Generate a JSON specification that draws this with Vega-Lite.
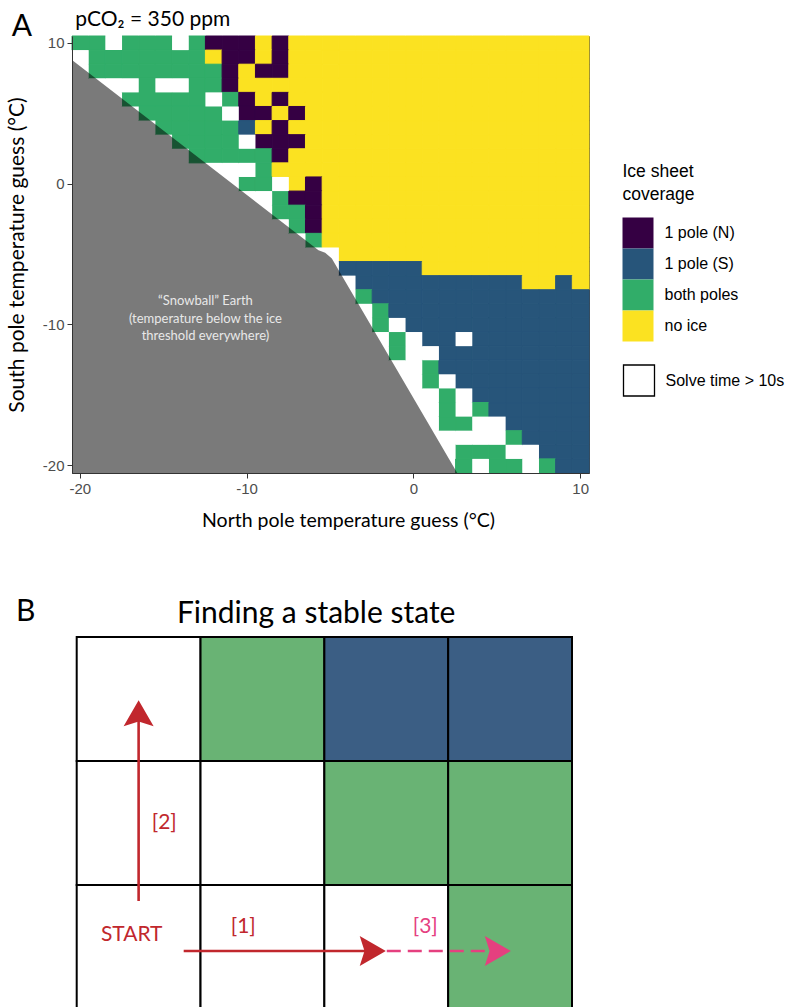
{
  "$schema": "https://vega.github.io/schema/vega-lite/v6.json",
  "padding": {"left": 5, "top": 8, "right": 0, "bottom": 0},
  "background": "white",
  "config": {"font": "Lato", "view": {"stroke": null}, "axis": {"grid": false}},
  "spacing": 66,
  "resolve": {"scale": {"x": "independent", "y": "independent", "fill": "independent", "stroke": "independent", "color": "independent", "shape": "independent"}},
  "datasets": {
    "cells": [
      {"n":-20,"s":10,"c":"both poles"},{"n":-19,"s":10,"c":"both poles"},{"n":-18,"s":10,"c":"Solve time > 10s"},{"n":-17,"s":10,"c":"both poles"},{"n":-16,"s":10,"c":"both poles"},{"n":-15,"s":10,"c":"both poles"},{"n":-14,"s":10,"c":"Solve time > 10s"},{"n":-13,"s":10,"c":"both poles"},{"n":-12,"s":10,"c":"1 pole (N)"},{"n":-11,"s":10,"c":"1 pole (N)"},{"n":-10,"s":10,"c":"1 pole (N)"},{"n":-9,"s":10,"c":"no ice"},{"n":-8,"s":10,"c":"1 pole (N)"},
      {"n":-7,"s":10,"c":"no ice"},{"n":-6,"s":10,"c":"no ice"},{"n":-5,"s":10,"c":"no ice"},{"n":-4,"s":10,"c":"no ice"},{"n":-3,"s":10,"c":"no ice"},{"n":-2,"s":10,"c":"no ice"},{"n":-1,"s":10,"c":"no ice"},{"n":0,"s":10,"c":"no ice"},{"n":1,"s":10,"c":"no ice"},{"n":2,"s":10,"c":"no ice"},{"n":3,"s":10,"c":"no ice"},{"n":4,"s":10,"c":"no ice"},{"n":5,"s":10,"c":"no ice"},{"n":6,"s":10,"c":"no ice"},{"n":7,"s":10,"c":"no ice"},{"n":8,"s":10,"c":"no ice"},{"n":9,"s":10,"c":"no ice"},{"n":10,"s":10,"c":"no ice"},

      {"n":-20,"s":9,"c":"Solve time > 10s"},{"n":-19,"s":9,"c":"both poles"},{"n":-18,"s":9,"c":"both poles"},{"n":-17,"s":9,"c":"both poles"},{"n":-16,"s":9,"c":"both poles"},{"n":-15,"s":9,"c":"both poles"},{"n":-14,"s":9,"c":"both poles"},{"n":-13,"s":9,"c":"both poles"},{"n":-12,"s":9,"c":"no ice"},{"n":-11,"s":9,"c":"1 pole (N)"},{"n":-10,"s":9,"c":"1 pole (N)"},{"n":-9,"s":9,"c":"no ice"},{"n":-8,"s":9,"c":"1 pole (N)"},
      {"n":-7,"s":9,"c":"no ice"},{"n":-6,"s":9,"c":"no ice"},{"n":-5,"s":9,"c":"no ice"},{"n":-4,"s":9,"c":"no ice"},{"n":-3,"s":9,"c":"no ice"},{"n":-2,"s":9,"c":"no ice"},{"n":-1,"s":9,"c":"no ice"},{"n":0,"s":9,"c":"no ice"},{"n":1,"s":9,"c":"no ice"},{"n":2,"s":9,"c":"no ice"},{"n":3,"s":9,"c":"no ice"},{"n":4,"s":9,"c":"no ice"},{"n":5,"s":9,"c":"no ice"},{"n":6,"s":9,"c":"no ice"},{"n":7,"s":9,"c":"no ice"},{"n":8,"s":9,"c":"no ice"},{"n":9,"s":9,"c":"no ice"},{"n":10,"s":9,"c":"no ice"},

      {"n":-20,"s":8,"c":"Solve time > 10s"},{"n":-19,"s":8,"c":"both poles"},{"n":-18,"s":8,"c":"both poles"},{"n":-17,"s":8,"c":"both poles"},{"n":-16,"s":8,"c":"both poles"},{"n":-15,"s":8,"c":"both poles"},{"n":-14,"s":8,"c":"both poles"},{"n":-13,"s":8,"c":"both poles"},{"n":-12,"s":8,"c":"both poles"},{"n":-11,"s":8,"c":"1 pole (N)"},{"n":-10,"s":8,"c":"no ice"},{"n":-9,"s":8,"c":"1 pole (N)"},{"n":-8,"s":8,"c":"1 pole (N)"},
      {"n":-7,"s":8,"c":"no ice"},{"n":-6,"s":8,"c":"no ice"},{"n":-5,"s":8,"c":"no ice"},{"n":-4,"s":8,"c":"no ice"},{"n":-3,"s":8,"c":"no ice"},{"n":-2,"s":8,"c":"no ice"},{"n":-1,"s":8,"c":"no ice"},{"n":0,"s":8,"c":"no ice"},{"n":1,"s":8,"c":"no ice"},{"n":2,"s":8,"c":"no ice"},{"n":3,"s":8,"c":"no ice"},{"n":4,"s":8,"c":"no ice"},{"n":5,"s":8,"c":"no ice"},{"n":6,"s":8,"c":"no ice"},{"n":7,"s":8,"c":"no ice"},{"n":8,"s":8,"c":"no ice"},{"n":9,"s":8,"c":"no ice"},{"n":10,"s":8,"c":"no ice"},

      {"n":-19,"s":7,"c":"Solve time > 10s"},{"n":-18,"s":7,"c":"Solve time > 10s"},{"n":-17,"s":7,"c":"Solve time > 10s"},{"n":-16,"s":7,"c":"both poles"},{"n":-15,"s":7,"c":"Solve time > 10s"},{"n":-14,"s":7,"c":"Solve time > 10s"},{"n":-13,"s":7,"c":"both poles"},{"n":-12,"s":7,"c":"both poles"},{"n":-11,"s":7,"c":"1 pole (N)"},
      {"n":-10,"s":7,"c":"no ice"},{"n":-9,"s":7,"c":"no ice"},{"n":-8,"s":7,"c":"no ice"},{"n":-7,"s":7,"c":"no ice"},{"n":-6,"s":7,"c":"no ice"},{"n":-5,"s":7,"c":"no ice"},{"n":-4,"s":7,"c":"no ice"},{"n":-3,"s":7,"c":"no ice"},{"n":-2,"s":7,"c":"no ice"},{"n":-1,"s":7,"c":"no ice"},{"n":0,"s":7,"c":"no ice"},{"n":1,"s":7,"c":"no ice"},{"n":2,"s":7,"c":"no ice"},{"n":3,"s":7,"c":"no ice"},{"n":4,"s":7,"c":"no ice"},{"n":5,"s":7,"c":"no ice"},{"n":6,"s":7,"c":"no ice"},{"n":7,"s":7,"c":"no ice"},{"n":8,"s":7,"c":"no ice"},{"n":9,"s":7,"c":"no ice"},{"n":10,"s":7,"c":"no ice"},

      {"n":-18,"s":6,"c":"Solve time > 10s"},{"n":-17,"s":6,"c":"both poles"},{"n":-16,"s":6,"c":"both poles"},{"n":-15,"s":6,"c":"both poles"},{"n":-14,"s":6,"c":"both poles"},{"n":-13,"s":6,"c":"both poles"},{"n":-12,"s":6,"c":"Solve time > 10s"},{"n":-11,"s":6,"c":"both poles"},{"n":-10,"s":6,"c":"1 pole (N)"},{"n":-9,"s":6,"c":"no ice"},{"n":-8,"s":6,"c":"1 pole (N)"},
      {"n":-7,"s":6,"c":"no ice"},{"n":-6,"s":6,"c":"no ice"},{"n":-5,"s":6,"c":"no ice"},{"n":-4,"s":6,"c":"no ice"},{"n":-3,"s":6,"c":"no ice"},{"n":-2,"s":6,"c":"no ice"},{"n":-1,"s":6,"c":"no ice"},{"n":0,"s":6,"c":"no ice"},{"n":1,"s":6,"c":"no ice"},{"n":2,"s":6,"c":"no ice"},{"n":3,"s":6,"c":"no ice"},{"n":4,"s":6,"c":"no ice"},{"n":5,"s":6,"c":"no ice"},{"n":6,"s":6,"c":"no ice"},{"n":7,"s":6,"c":"no ice"},{"n":8,"s":6,"c":"no ice"},{"n":9,"s":6,"c":"no ice"},{"n":10,"s":6,"c":"no ice"},

      {"n":-17,"s":5,"c":"Solve time > 10s"},{"n":-16,"s":5,"c":"both poles"},{"n":-15,"s":5,"c":"both poles"},{"n":-14,"s":5,"c":"both poles"},{"n":-13,"s":5,"c":"both poles"},{"n":-12,"s":5,"c":"both poles"},{"n":-11,"s":5,"c":"Solve time > 10s"},{"n":-10,"s":5,"c":"1 pole (N)"},{"n":-9,"s":5,"c":"1 pole (N)"},{"n":-8,"s":5,"c":"no ice"},{"n":-7,"s":5,"c":"1 pole (N)"},
      {"n":-6,"s":5,"c":"no ice"},{"n":-5,"s":5,"c":"no ice"},{"n":-4,"s":5,"c":"no ice"},{"n":-3,"s":5,"c":"no ice"},{"n":-2,"s":5,"c":"no ice"},{"n":-1,"s":5,"c":"no ice"},{"n":0,"s":5,"c":"no ice"},{"n":1,"s":5,"c":"no ice"},{"n":2,"s":5,"c":"no ice"},{"n":3,"s":5,"c":"no ice"},{"n":4,"s":5,"c":"no ice"},{"n":5,"s":5,"c":"no ice"},{"n":6,"s":5,"c":"no ice"},{"n":7,"s":5,"c":"no ice"},{"n":8,"s":5,"c":"no ice"},{"n":9,"s":5,"c":"no ice"},{"n":10,"s":5,"c":"no ice"},

      {"n":-16,"s":4,"c":"Solve time > 10s"},{"n":-15,"s":4,"c":"both poles"},{"n":-14,"s":4,"c":"both poles"},{"n":-13,"s":4,"c":"both poles"},{"n":-12,"s":4,"c":"both poles"},{"n":-11,"s":4,"c":"both poles"},{"n":-10,"s":4,"c":"1 pole (S)"},{"n":-9,"s":4,"c":"no ice"},{"n":-8,"s":4,"c":"1 pole (N)"},
      {"n":-7,"s":4,"c":"no ice"},{"n":-6,"s":4,"c":"no ice"},{"n":-5,"s":4,"c":"no ice"},{"n":-4,"s":4,"c":"no ice"},{"n":-3,"s":4,"c":"no ice"},{"n":-2,"s":4,"c":"no ice"},{"n":-1,"s":4,"c":"no ice"},{"n":0,"s":4,"c":"no ice"},{"n":1,"s":4,"c":"no ice"},{"n":2,"s":4,"c":"no ice"},{"n":3,"s":4,"c":"no ice"},{"n":4,"s":4,"c":"no ice"},{"n":5,"s":4,"c":"no ice"},{"n":6,"s":4,"c":"no ice"},{"n":7,"s":4,"c":"no ice"},{"n":8,"s":4,"c":"no ice"},{"n":9,"s":4,"c":"no ice"},{"n":10,"s":4,"c":"no ice"},

      {"n":-15,"s":3,"c":"Solve time > 10s"},{"n":-14,"s":3,"c":"both poles"},{"n":-13,"s":3,"c":"both poles"},{"n":-12,"s":3,"c":"both poles"},{"n":-11,"s":3,"c":"both poles"},{"n":-10,"s":3,"c":"Solve time > 10s"},{"n":-9,"s":3,"c":"1 pole (N)"},{"n":-8,"s":3,"c":"1 pole (N)"},{"n":-7,"s":3,"c":"1 pole (N)"},
      {"n":-6,"s":3,"c":"no ice"},{"n":-5,"s":3,"c":"no ice"},{"n":-4,"s":3,"c":"no ice"},{"n":-3,"s":3,"c":"no ice"},{"n":-2,"s":3,"c":"no ice"},{"n":-1,"s":3,"c":"no ice"},{"n":0,"s":3,"c":"no ice"},{"n":1,"s":3,"c":"no ice"},{"n":2,"s":3,"c":"no ice"},{"n":3,"s":3,"c":"no ice"},{"n":4,"s":3,"c":"no ice"},{"n":5,"s":3,"c":"no ice"},{"n":6,"s":3,"c":"no ice"},{"n":7,"s":3,"c":"no ice"},{"n":8,"s":3,"c":"no ice"},{"n":9,"s":3,"c":"no ice"},{"n":10,"s":3,"c":"no ice"},

      {"n":-14,"s":2,"c":"Solve time > 10s"},{"n":-13,"s":2,"c":"both poles"},{"n":-12,"s":2,"c":"both poles"},{"n":-11,"s":2,"c":"both poles"},{"n":-10,"s":2,"c":"both poles"},{"n":-9,"s":2,"c":"both poles"},{"n":-8,"s":2,"c":"1 pole (N)"},
      {"n":-7,"s":2,"c":"no ice"},{"n":-6,"s":2,"c":"no ice"},{"n":-5,"s":2,"c":"no ice"},{"n":-4,"s":2,"c":"no ice"},{"n":-3,"s":2,"c":"no ice"},{"n":-2,"s":2,"c":"no ice"},{"n":-1,"s":2,"c":"no ice"},{"n":0,"s":2,"c":"no ice"},{"n":1,"s":2,"c":"no ice"},{"n":2,"s":2,"c":"no ice"},{"n":3,"s":2,"c":"no ice"},{"n":4,"s":2,"c":"no ice"},{"n":5,"s":2,"c":"no ice"},{"n":6,"s":2,"c":"no ice"},{"n":7,"s":2,"c":"no ice"},{"n":8,"s":2,"c":"no ice"},{"n":9,"s":2,"c":"no ice"},{"n":10,"s":2,"c":"no ice"},

      {"n":-12,"s":1,"c":"Solve time > 10s"},{"n":-11,"s":1,"c":"Solve time > 10s"},{"n":-10,"s":1,"c":"Solve time > 10s"},{"n":-9,"s":1,"c":"both poles"},
      {"n":-8,"s":1,"c":"no ice"},{"n":-7,"s":1,"c":"no ice"},{"n":-6,"s":1,"c":"no ice"},{"n":-5,"s":1,"c":"no ice"},{"n":-4,"s":1,"c":"no ice"},{"n":-3,"s":1,"c":"no ice"},{"n":-2,"s":1,"c":"no ice"},{"n":-1,"s":1,"c":"no ice"},{"n":0,"s":1,"c":"no ice"},{"n":1,"s":1,"c":"no ice"},{"n":2,"s":1,"c":"no ice"},{"n":3,"s":1,"c":"no ice"},{"n":4,"s":1,"c":"no ice"},{"n":5,"s":1,"c":"no ice"},{"n":6,"s":1,"c":"no ice"},{"n":7,"s":1,"c":"no ice"},{"n":8,"s":1,"c":"no ice"},{"n":9,"s":1,"c":"no ice"},{"n":10,"s":1,"c":"no ice"},

      {"n":-11,"s":0,"c":"Solve time > 10s"},{"n":-10,"s":0,"c":"both poles"},{"n":-9,"s":0,"c":"both poles"},{"n":-8,"s":0,"c":"Solve time > 10s"},{"n":-7,"s":0,"c":"no ice"},{"n":-6,"s":0,"c":"1 pole (N)"},
      {"n":-5,"s":0,"c":"no ice"},{"n":-4,"s":0,"c":"no ice"},{"n":-3,"s":0,"c":"no ice"},{"n":-2,"s":0,"c":"no ice"},{"n":-1,"s":0,"c":"no ice"},{"n":0,"s":0,"c":"no ice"},{"n":1,"s":0,"c":"no ice"},{"n":2,"s":0,"c":"no ice"},{"n":3,"s":0,"c":"no ice"},{"n":4,"s":0,"c":"no ice"},{"n":5,"s":0,"c":"no ice"},{"n":6,"s":0,"c":"no ice"},{"n":7,"s":0,"c":"no ice"},{"n":8,"s":0,"c":"no ice"},{"n":9,"s":0,"c":"no ice"},{"n":10,"s":0,"c":"no ice"},

      {"n":-10,"s":-1,"c":"Solve time > 10s"},{"n":-9,"s":-1,"c":"Solve time > 10s"},{"n":-8,"s":-1,"c":"both poles"},{"n":-7,"s":-1,"c":"1 pole (N)"},{"n":-6,"s":-1,"c":"1 pole (N)"},
      {"n":-5,"s":-1,"c":"no ice"},{"n":-4,"s":-1,"c":"no ice"},{"n":-3,"s":-1,"c":"no ice"},{"n":-2,"s":-1,"c":"no ice"},{"n":-1,"s":-1,"c":"no ice"},{"n":0,"s":-1,"c":"no ice"},{"n":1,"s":-1,"c":"no ice"},{"n":2,"s":-1,"c":"no ice"},{"n":3,"s":-1,"c":"no ice"},{"n":4,"s":-1,"c":"no ice"},{"n":5,"s":-1,"c":"no ice"},{"n":6,"s":-1,"c":"no ice"},{"n":7,"s":-1,"c":"no ice"},{"n":8,"s":-1,"c":"no ice"},{"n":9,"s":-1,"c":"no ice"},{"n":10,"s":-1,"c":"no ice"},

      {"n":-9,"s":-2,"c":"Solve time > 10s"},{"n":-8,"s":-2,"c":"both poles"},{"n":-7,"s":-2,"c":"both poles"},{"n":-6,"s":-2,"c":"1 pole (N)"},
      {"n":-5,"s":-2,"c":"no ice"},{"n":-4,"s":-2,"c":"no ice"},{"n":-3,"s":-2,"c":"no ice"},{"n":-2,"s":-2,"c":"no ice"},{"n":-1,"s":-2,"c":"no ice"},{"n":0,"s":-2,"c":"no ice"},{"n":1,"s":-2,"c":"no ice"},{"n":2,"s":-2,"c":"no ice"},{"n":3,"s":-2,"c":"no ice"},{"n":4,"s":-2,"c":"no ice"},{"n":5,"s":-2,"c":"no ice"},{"n":6,"s":-2,"c":"no ice"},{"n":7,"s":-2,"c":"no ice"},{"n":8,"s":-2,"c":"no ice"},{"n":9,"s":-2,"c":"no ice"},{"n":10,"s":-2,"c":"no ice"},

      {"n":-8,"s":-3,"c":"Solve time > 10s"},{"n":-7,"s":-3,"c":"both poles"},{"n":-6,"s":-3,"c":"1 pole (N)"},
      {"n":-5,"s":-3,"c":"no ice"},{"n":-4,"s":-3,"c":"no ice"},{"n":-3,"s":-3,"c":"no ice"},{"n":-2,"s":-3,"c":"no ice"},{"n":-1,"s":-3,"c":"no ice"},{"n":0,"s":-3,"c":"no ice"},{"n":1,"s":-3,"c":"no ice"},{"n":2,"s":-3,"c":"no ice"},{"n":3,"s":-3,"c":"no ice"},{"n":4,"s":-3,"c":"no ice"},{"n":5,"s":-3,"c":"no ice"},{"n":6,"s":-3,"c":"no ice"},{"n":7,"s":-3,"c":"no ice"},{"n":8,"s":-3,"c":"no ice"},{"n":9,"s":-3,"c":"no ice"},{"n":10,"s":-3,"c":"no ice"},

      {"n":-7,"s":-4,"c":"Solve time > 10s"},{"n":-6,"s":-4,"c":"both poles"},
      {"n":-5,"s":-4,"c":"no ice"},{"n":-4,"s":-4,"c":"no ice"},{"n":-3,"s":-4,"c":"no ice"},{"n":-2,"s":-4,"c":"no ice"},{"n":-1,"s":-4,"c":"no ice"},{"n":0,"s":-4,"c":"no ice"},{"n":1,"s":-4,"c":"no ice"},{"n":2,"s":-4,"c":"no ice"},{"n":3,"s":-4,"c":"no ice"},{"n":4,"s":-4,"c":"no ice"},{"n":5,"s":-4,"c":"no ice"},{"n":6,"s":-4,"c":"no ice"},{"n":7,"s":-4,"c":"no ice"},{"n":8,"s":-4,"c":"no ice"},{"n":9,"s":-4,"c":"no ice"},{"n":10,"s":-4,"c":"no ice"},

      {"n":-6,"s":-5,"c":"Solve time > 10s"},{"n":-5,"s":-5,"c":"Solve time > 10s"},
      {"n":-4,"s":-5,"c":"no ice"},{"n":-3,"s":-5,"c":"no ice"},{"n":-2,"s":-5,"c":"no ice"},{"n":-1,"s":-5,"c":"no ice"},{"n":0,"s":-5,"c":"no ice"},{"n":1,"s":-5,"c":"no ice"},{"n":2,"s":-5,"c":"no ice"},{"n":3,"s":-5,"c":"no ice"},{"n":4,"s":-5,"c":"no ice"},{"n":5,"s":-5,"c":"no ice"},{"n":6,"s":-5,"c":"no ice"},{"n":7,"s":-5,"c":"no ice"},{"n":8,"s":-5,"c":"no ice"},{"n":9,"s":-5,"c":"no ice"},{"n":10,"s":-5,"c":"no ice"},

      {"n":-5,"s":-6,"c":"Solve time > 10s"},{"n":-4,"s":-6,"c":"1 pole (S)"},{"n":-3,"s":-6,"c":"1 pole (S)"},{"n":-2,"s":-6,"c":"1 pole (S)"},{"n":-1,"s":-6,"c":"1 pole (S)"},{"n":0,"s":-6,"c":"1 pole (S)"},
      {"n":1,"s":-6,"c":"no ice"},{"n":2,"s":-6,"c":"no ice"},{"n":3,"s":-6,"c":"no ice"},{"n":4,"s":-6,"c":"no ice"},{"n":5,"s":-6,"c":"no ice"},{"n":6,"s":-6,"c":"no ice"},{"n":7,"s":-6,"c":"no ice"},{"n":8,"s":-6,"c":"no ice"},{"n":9,"s":-6,"c":"no ice"},{"n":10,"s":-6,"c":"no ice"},

      {"n":-4,"s":-7,"c":"Solve time > 10s"},{"n":-3,"s":-7,"c":"1 pole (S)"},{"n":-2,"s":-7,"c":"1 pole (S)"},{"n":-1,"s":-7,"c":"1 pole (S)"},{"n":0,"s":-7,"c":"1 pole (S)"},{"n":1,"s":-7,"c":"1 pole (S)"},{"n":2,"s":-7,"c":"1 pole (S)"},{"n":3,"s":-7,"c":"1 pole (S)"},{"n":4,"s":-7,"c":"1 pole (S)"},{"n":5,"s":-7,"c":"1 pole (S)"},{"n":6,"s":-7,"c":"1 pole (S)"},{"n":7,"s":-7,"c":"no ice"},{"n":8,"s":-7,"c":"no ice"},{"n":9,"s":-7,"c":"1 pole (S)"},{"n":10,"s":-7,"c":"no ice"},

      {"n":-4,"s":-8,"c":"Solve time > 10s"},{"n":-3,"s":-8,"c":"both poles"},{"n":-2,"s":-8,"c":"1 pole (S)"},{"n":-1,"s":-8,"c":"1 pole (S)"},{"n":0,"s":-8,"c":"1 pole (S)"},{"n":1,"s":-8,"c":"1 pole (S)"},{"n":2,"s":-8,"c":"1 pole (S)"},{"n":3,"s":-8,"c":"1 pole (S)"},{"n":4,"s":-8,"c":"1 pole (S)"},{"n":5,"s":-8,"c":"1 pole (S)"},{"n":6,"s":-8,"c":"1 pole (S)"},{"n":7,"s":-8,"c":"1 pole (S)"},{"n":8,"s":-8,"c":"1 pole (S)"},{"n":9,"s":-8,"c":"1 pole (S)"},{"n":10,"s":-8,"c":"1 pole (S)"},

      {"n":-3,"s":-9,"c":"Solve time > 10s"},{"n":-2,"s":-9,"c":"both poles"},{"n":-1,"s":-9,"c":"1 pole (S)"},{"n":0,"s":-9,"c":"1 pole (S)"},{"n":1,"s":-9,"c":"1 pole (S)"},{"n":2,"s":-9,"c":"1 pole (S)"},{"n":3,"s":-9,"c":"1 pole (S)"},{"n":4,"s":-9,"c":"1 pole (S)"},{"n":5,"s":-9,"c":"1 pole (S)"},{"n":6,"s":-9,"c":"1 pole (S)"},{"n":7,"s":-9,"c":"1 pole (S)"},{"n":8,"s":-9,"c":"1 pole (S)"},{"n":9,"s":-9,"c":"1 pole (S)"},{"n":10,"s":-9,"c":"1 pole (S)"},

      {"n":-3,"s":-10,"c":"Solve time > 10s"},{"n":-2,"s":-10,"c":"both poles"},{"n":-1,"s":-10,"c":"Solve time > 10s"},{"n":0,"s":-10,"c":"1 pole (S)"},{"n":1,"s":-10,"c":"1 pole (S)"},{"n":2,"s":-10,"c":"1 pole (S)"},{"n":3,"s":-10,"c":"1 pole (S)"},{"n":4,"s":-10,"c":"1 pole (S)"},{"n":5,"s":-10,"c":"1 pole (S)"},{"n":6,"s":-10,"c":"1 pole (S)"},{"n":7,"s":-10,"c":"1 pole (S)"},{"n":8,"s":-10,"c":"1 pole (S)"},{"n":9,"s":-10,"c":"1 pole (S)"},{"n":10,"s":-10,"c":"1 pole (S)"},

      {"n":-2,"s":-11,"c":"Solve time > 10s"},{"n":-1,"s":-11,"c":"both poles"},{"n":0,"s":-11,"c":"Solve time > 10s"},{"n":1,"s":-11,"c":"1 pole (S)"},{"n":2,"s":-11,"c":"1 pole (S)"},{"n":3,"s":-11,"c":"Solve time > 10s"},{"n":4,"s":-11,"c":"1 pole (S)"},{"n":5,"s":-11,"c":"1 pole (S)"},{"n":6,"s":-11,"c":"1 pole (S)"},{"n":7,"s":-11,"c":"1 pole (S)"},{"n":8,"s":-11,"c":"1 pole (S)"},{"n":9,"s":-11,"c":"1 pole (S)"},{"n":10,"s":-11,"c":"1 pole (S)"},

      {"n":-2,"s":-12,"c":"Solve time > 10s"},{"n":-1,"s":-12,"c":"both poles"},{"n":0,"s":-12,"c":"Solve time > 10s"},{"n":1,"s":-12,"c":"Solve time > 10s"},{"n":2,"s":-12,"c":"1 pole (S)"},{"n":3,"s":-12,"c":"1 pole (S)"},{"n":4,"s":-12,"c":"1 pole (S)"},{"n":5,"s":-12,"c":"1 pole (S)"},{"n":6,"s":-12,"c":"1 pole (S)"},{"n":7,"s":-12,"c":"1 pole (S)"},{"n":8,"s":-12,"c":"1 pole (S)"},{"n":9,"s":-12,"c":"1 pole (S)"},{"n":10,"s":-12,"c":"1 pole (S)"},

      {"n":-1,"s":-13,"c":"Solve time > 10s"},{"n":0,"s":-13,"c":"Solve time > 10s"},{"n":1,"s":-13,"c":"both poles"},{"n":2,"s":-13,"c":"1 pole (S)"},{"n":3,"s":-13,"c":"1 pole (S)"},{"n":4,"s":-13,"c":"1 pole (S)"},{"n":5,"s":-13,"c":"1 pole (S)"},{"n":6,"s":-13,"c":"1 pole (S)"},{"n":7,"s":-13,"c":"1 pole (S)"},{"n":8,"s":-13,"c":"1 pole (S)"},{"n":9,"s":-13,"c":"1 pole (S)"},{"n":10,"s":-13,"c":"1 pole (S)"},

      {"n":-1,"s":-14,"c":"Solve time > 10s"},{"n":0,"s":-14,"c":"Solve time > 10s"},{"n":1,"s":-14,"c":"both poles"},{"n":2,"s":-14,"c":"Solve time > 10s"},{"n":3,"s":-14,"c":"1 pole (S)"},{"n":4,"s":-14,"c":"1 pole (S)"},{"n":5,"s":-14,"c":"1 pole (S)"},{"n":6,"s":-14,"c":"1 pole (S)"},{"n":7,"s":-14,"c":"1 pole (S)"},{"n":8,"s":-14,"c":"1 pole (S)"},{"n":9,"s":-14,"c":"1 pole (S)"},{"n":10,"s":-14,"c":"1 pole (S)"},

      {"n":0,"s":-15,"c":"Solve time > 10s"},{"n":1,"s":-15,"c":"Solve time > 10s"},{"n":2,"s":-15,"c":"both poles"},{"n":3,"s":-15,"c":"Solve time > 10s"},{"n":4,"s":-15,"c":"1 pole (S)"},{"n":5,"s":-15,"c":"1 pole (S)"},{"n":6,"s":-15,"c":"1 pole (S)"},{"n":7,"s":-15,"c":"1 pole (S)"},{"n":8,"s":-15,"c":"1 pole (S)"},{"n":9,"s":-15,"c":"1 pole (S)"},{"n":10,"s":-15,"c":"1 pole (S)"},

      {"n":0,"s":-16,"c":"Solve time > 10s"},{"n":1,"s":-16,"c":"Solve time > 10s"},{"n":2,"s":-16,"c":"both poles"},{"n":3,"s":-16,"c":"Solve time > 10s"},{"n":4,"s":-16,"c":"both poles"},{"n":5,"s":-16,"c":"1 pole (S)"},{"n":6,"s":-16,"c":"1 pole (S)"},{"n":7,"s":-16,"c":"1 pole (S)"},{"n":8,"s":-16,"c":"1 pole (S)"},{"n":9,"s":-16,"c":"1 pole (S)"},{"n":10,"s":-16,"c":"1 pole (S)"},

      {"n":1,"s":-17,"c":"Solve time > 10s"},{"n":2,"s":-17,"c":"both poles"},{"n":3,"s":-17,"c":"both poles"},{"n":4,"s":-17,"c":"Solve time > 10s"},{"n":5,"s":-17,"c":"Solve time > 10s"},{"n":6,"s":-17,"c":"1 pole (S)"},{"n":7,"s":-17,"c":"1 pole (S)"},{"n":8,"s":-17,"c":"1 pole (S)"},{"n":9,"s":-17,"c":"1 pole (S)"},{"n":10,"s":-17,"c":"1 pole (S)"},

      {"n":1,"s":-18,"c":"Solve time > 10s"},{"n":2,"s":-18,"c":"Solve time > 10s"},{"n":3,"s":-18,"c":"Solve time > 10s"},{"n":4,"s":-18,"c":"Solve time > 10s"},{"n":5,"s":-18,"c":"Solve time > 10s"},{"n":6,"s":-18,"c":"both poles"},{"n":7,"s":-18,"c":"1 pole (S)"},{"n":8,"s":-18,"c":"1 pole (S)"},{"n":9,"s":-18,"c":"1 pole (S)"},{"n":10,"s":-18,"c":"1 pole (S)"},

      {"n":2,"s":-19,"c":"Solve time > 10s"},{"n":3,"s":-19,"c":"both poles"},{"n":4,"s":-19,"c":"both poles"},{"n":5,"s":-19,"c":"both poles"},{"n":6,"s":-19,"c":"Solve time > 10s"},{"n":7,"s":-19,"c":"Solve time > 10s"},{"n":8,"s":-19,"c":"1 pole (S)"},{"n":9,"s":-19,"c":"1 pole (S)"},{"n":10,"s":-19,"c":"1 pole (S)"},

      {"n":3,"s":-20,"c":"both poles"},{"n":4,"s":-20,"c":"Solve time > 10s"},{"n":5,"s":-20,"c":"both poles"},{"n":6,"s":-20,"c":"both poles"},{"n":7,"s":-20,"c":"Solve time > 10s"},{"n":8,"s":-20,"c":"both poles"},{"n":9,"s":-20,"c":"1 pole (S)"},{"n":10,"s":-20,"c":"1 pole (S)"}
    ],
    "snowline": [
      {"n": -20.5, "s": 8.8},
      {"n": -5.72, "s": -4.7},
      {"n": -5.32, "s": -4.87},
      {"n": -4.92, "s": -5.29},
      {"n": 2.6, "s": -20.5}
    ],
    "notesA": [
      {"n": -12.5, "s": -8.3, "label": "“Snowball” Earth\n(temperature below the ice\nthreshold everywhere)"}
    ],
    "panelA": [
      {"n": -23.5, "s": 10.5, "label": "A"}
    ],
    "titleA": [
      {"n": -20.3, "s": 11.21, "label": "pCO₂ =  350 ppm"}
    ],
    "grid": [
      {"col": 0, "row": 0, "state": "not stable"},
      {"col": 1, "row": 0, "state": "both poles"},
      {"col": 2, "row": 0, "state": "1 pole (S)"},
      {"col": 3, "row": 0, "state": "1 pole (S)"},
      {"col": 0, "row": 1, "state": "not stable"},
      {"col": 1, "row": 1, "state": "not stable"},
      {"col": 2, "row": 1, "state": "both poles"},
      {"col": 3, "row": 1, "state": "both poles"},
      {"col": 0, "row": 2, "state": "not stable"},
      {"col": 1, "row": 2, "state": "not stable"},
      {"col": 2, "row": 2, "state": "not stable"},
      {"col": 3, "row": 2, "state": "both poles"}
    ],
    "shafts": [
      {"step": "[1]", "x": 0.864, "x2": 2.36, "y": 0.468, "y2": 0.468},
      {"step": "[2]", "x": 0.5, "x2": 0.5, "y": 0.871, "y2": 2.36},
      {"step": "[3]", "x": 2.504, "x2": 3.35, "y": 0.468, "y2": 0.468}
    ],
    "heads": [
      {"step": "[1]", "x": 2.391, "y": 0.468, "dir": "right"},
      {"step": "[2]", "x": 0.5, "y": 2.385, "dir": "up"},
      {"step": "[3]", "x": 3.401, "y": 0.468, "dir": "right"}
    ],
    "steplabels": [
      {"step": "start", "label": "START", "x": 0.444, "y": 0.597},
      {"step": "[1]", "label": "[1]", "x": 1.345, "y": 0.661},
      {"step": "[2]", "label": "[2]", "x": 0.707, "y": 1.5},
      {"step": "[3]", "label": "[3]", "x": 2.815, "y": 0.661}
    ],
    "panelB": [
      {"x": -0.412, "y": 3.13, "label": "B"}
    ],
    "titleB": [
      {"x": 1.934, "y": 3.113, "label": "Finding a stable state"}
    ]
  },
  "vconcat": [
    {
      "width": 517,
      "height": 437,
      "view": {"stroke": "#444", "strokeWidth": 1},
      "resolve": {"scale": {"x": "independent", "y": "independent", "fill": "independent"}, "legend": {"fill": "independent"}},
      "layer": [
        {
          "data": {"name": "cells"},
          "transform": [{"filter": "datum.c !== 'Solve time > 10s'"}],
          "mark": {"type": "rect", "strokeWidth": 1},
          "encoding": {
            "x": {"field": "n", "type": "ordinal",
              "scale": {"domain": [-20,-19,-18,-17,-16,-15,-14,-13,-12,-11,-10,-9,-8,-7,-6,-5,-4,-3,-2,-1,0,1,2,3,4,5,6,7,8,9,10], "paddingInner": 0, "paddingOuter": 0},
              "axis": {"values": [-20,-10,0,10], "labelAngle": 0, "title": "North pole temperature guess (°C)", "titleX": 276, "tickSize": 5, "tickColor": "#333", "domainColor": "#333", "labelColor": "#4d4d4d", "labelFont": "Liberation Sans", "labelFontSize": 15, "labelPadding": 3, "titleFont": "Lato", "titleFontSize": 19.5, "titleFontWeight": "normal", "titleColor": "black", "titlePadding": 15}},
            "y": {"field": "s", "type": "ordinal",
              "scale": {"domain": [10,9,8,7,6,5,4,3,2,1,0,-1,-2,-3,-4,-5,-6,-7,-8,-9,-10,-11,-12,-13,-14,-15,-16,-17,-18,-19,-20], "paddingInner": 0, "paddingOuter": 0},
              "axis": {"values": [-20,-10,0,10], "title": "South pole temperature guess (°C)", "tickSize": 5, "tickColor": "#333", "domainColor": "#333", "labelColor": "#4d4d4d", "labelFont": "Liberation Sans", "labelFontSize": 15, "labelPadding": 3, "titleFont": "Lato", "titleFontSize": 21, "titleFontWeight": "normal", "titleColor": "black", "titlePadding": 15}},
            "fill": {"field": "c", "type": "nominal",
              "scale": {"domain": ["1 pole (N)", "1 pole (S)", "both poles", "no ice"], "range": ["#350043", "#27557a", "#31ad69", "#fbe221"]},
              "legend": {"title": ["Ice sheet", "coverage"], "orient": "none", "legendX": 550.5, "legendY": 127, "padding": 0, "symbolType": "square", "symbolSize": 961, "symbolStrokeWidth": 0, "rowPadding": 0, "labelFont": "Liberation Sans", "labelFontSize": 16, "labelColor": "black", "labelOffset": 11, "titleFont": "Liberation Sans", "titleFontSize": 17.5, "titleFontWeight": "normal", "titleColor": "black", "titleLineHeight": 23, "titlePadding": 14}},
            "stroke": {"field": "c", "type": "nominal",
              "scale": {"domain": ["1 pole (N)", "1 pole (S)", "both poles", "no ice"], "range": ["#350043", "#27557a", "#31ad69", "#fbe221"]},
              "legend": null}
          }
        },
        {
          "data": {"name": "cells"},
          "transform": [{"filter": "datum.c === 'Solve time > 10s'"}],
          "mark": {"type": "rect"},
          "encoding": {
            "x": {"field": "n", "type": "ordinal",
              "scale": {"domain": [-20,-19,-18,-17,-16,-15,-14,-13,-12,-11,-10,-9,-8,-7,-6,-5,-4,-3,-2,-1,0,1,2,3,4,5,6,7,8,9,10], "paddingInner": 0, "paddingOuter": 0}, "axis": null},
            "y": {"field": "s", "type": "ordinal",
              "scale": {"domain": [10,9,8,7,6,5,4,3,2,1,0,-1,-2,-3,-4,-5,-6,-7,-8,-9,-10,-11,-12,-13,-14,-15,-16,-17,-18,-19,-20], "paddingInner": 0, "paddingOuter": 0}, "axis": null},
            "fill": {"field": "c", "type": "nominal",
              "scale": {"domain": ["Solve time > 10s"], "range": ["white"]},
              "legend": {"title": null, "orient": "none", "legendX": 550.5, "legendY": 328, "padding": 0, "symbolType": "square", "symbolSize": 961, "symbolStrokeColor": "black", "symbolStrokeWidth": 1.3, "labelFont": "Liberation Sans", "labelFontSize": 16, "labelColor": "black", "labelOffset": 10}}
          }
        },
        {
          "data": {"name": "snowline"},
          "mark": {"type": "area", "color": "black", "opacity": 0.52, "interpolate": "linear"},
          "encoding": {
            "x": {"field": "n", "type": "quantitative", "scale": {"domain": [-20.5, 10.5], "nice": false, "zero": false}, "axis": null},
            "y": {"field": "s", "type": "quantitative", "scale": {"domain": [-20.5, 10.5], "nice": false, "zero": false}, "axis": null},
            "y2": {"datum": -20.5}
          }
        },
        {
          "data": {"name": "notesA"},
          "mark": {"type": "text", "font": "Lato", "fontSize": 13, "color": "#e8e8e8", "lineBreak": "\n", "lineHeight": 17.5, "align": "center", "baseline": "middle"},
          "encoding": {
            "x": {"field": "n", "type": "quantitative", "scale": {"domain": [-20.5, 10.5], "nice": false, "zero": false}, "axis": null},
            "y": {"field": "s", "type": "quantitative", "scale": {"domain": [-20.5, 10.5], "nice": false, "zero": false}, "axis": null},
            "text": {"field": "label"}
          }
        },
        {
          "data": {"name": "panelA"},
          "mark": {"type": "text", "font": "Lato", "fontSize": 30, "color": "black", "align": "center", "baseline": "alphabetic"},
          "encoding": {
            "x": {"field": "n", "type": "quantitative", "scale": {"domain": [-20.5, 10.5], "nice": false, "zero": false}, "axis": null},
            "y": {"field": "s", "type": "quantitative", "scale": {"domain": [-20.5, 10.5], "nice": false, "zero": false}, "axis": null},
            "text": {"field": "label"}
          }
        },
        {
          "data": {"name": "titleA"},
          "mark": {"type": "text", "font": "Lato", "fontSize": 21, "color": "black", "align": "left", "baseline": "alphabetic"},
          "encoding": {
            "x": {"field": "n", "type": "quantitative", "scale": {"domain": [-20.5, 10.5], "nice": false, "zero": false}, "axis": null},
            "y": {"field": "s", "type": "quantitative", "scale": {"domain": [-20.5, 10.5], "nice": false, "zero": false}, "axis": null},
            "text": {"field": "label"}
          }
        }
      ]
    },
    {
      "width": 500,
      "height": 372,
      "view": {"stroke": null},
      "resolve": {"scale": {"x": "independent", "y": "independent"}},
      "layer": [
        {
          "data": {"name": "grid"},
          "mark": {"type": "rect", "stroke": "black", "strokeWidth": 2},
          "encoding": {
            "x": {"field": "col", "type": "ordinal", "scale": {"domain": [0, 1, 2, 3], "paddingInner": 0, "paddingOuter": 0.019, "align": 1}, "axis": null},
            "y": {"field": "row", "type": "ordinal", "scale": {"domain": [0, 1, 2], "paddingInner": 0, "paddingOuter": 0}, "axis": null},
            "fill": {"field": "state", "type": "nominal", "scale": {"domain": ["not stable", "both poles", "1 pole (S)"], "range": ["white", "#69b374", "#3b5e84"]}, "legend": null}
          }
        },
        {
          "data": {"name": "shafts"},
          "transform": [{"filter": "datum.step !== '[3]'"}],
          "mark": {"type": "rule", "strokeWidth": 2.6},
          "encoding": {
            "x": {"field": "x", "type": "quantitative", "scale": {"domain": [-0.038, 4], "nice": false, "zero": false}, "axis": null},
            "x2": {"field": "x2"},
            "y": {"field": "y", "type": "quantitative", "scale": {"domain": [0, 3], "nice": false, "zero": false}, "axis": null},
            "y2": {"field": "y2"},
            "color": {"field": "step", "type": "nominal", "scale": {"domain": ["start", "[1]", "[2]", "[3]"], "range": ["#c1272d", "#c1272d", "#c1272d", "#e5407f"]}, "legend": null}
          }
        },
        {
          "data": {"name": "shafts"},
          "transform": [{"filter": "datum.step === '[3]'"}],
          "mark": {"type": "rule", "strokeWidth": 2.6, "strokeDash": [14, 7]},
          "encoding": {
            "x": {"field": "x", "type": "quantitative", "scale": {"domain": [-0.038, 4], "nice": false, "zero": false}, "axis": null},
            "x2": {"field": "x2"},
            "y": {"field": "y", "type": "quantitative", "scale": {"domain": [0, 3], "nice": false, "zero": false}, "axis": null},
            "y2": {"field": "y2"},
            "color": {"field": "step", "type": "nominal", "scale": {"domain": ["start", "[1]", "[2]", "[3]"], "range": ["#c1272d", "#c1272d", "#c1272d", "#e5407f"]}, "legend": null}
          }
        },
        {
          "data": {"name": "heads"},
          "mark": {"type": "point", "filled": true, "size": 900, "opacity": 1, "strokeWidth": 0},
          "encoding": {
            "x": {"field": "x", "type": "quantitative", "scale": {"domain": [-0.038, 4], "nice": false, "zero": false}, "axis": null},
            "y": {"field": "y", "type": "quantitative", "scale": {"domain": [0, 3], "nice": false, "zero": false}, "axis": null},
            "shape": {"field": "dir", "type": "nominal", "scale": {"domain": ["up", "right"], "range": ["M0,-0.87L1,0.87L0,0.55L-1,0.87Z", "M0.87,0L-0.87,-1L-0.55,0L-0.87,1Z"]}, "legend": null},
            "color": {"field": "step", "type": "nominal", "scale": {"domain": ["start", "[1]", "[2]", "[3]"], "range": ["#c1272d", "#c1272d", "#c1272d", "#e5407f"]}, "legend": null}
          }
        },
        {
          "data": {"name": "steplabels"},
          "mark": {"type": "text", "font": "Lato", "fontSize": 21, "align": "center", "baseline": "middle"},
          "encoding": {
            "x": {"field": "x", "type": "quantitative", "scale": {"domain": [-0.038, 4], "nice": false, "zero": false}, "axis": null},
            "y": {"field": "y", "type": "quantitative", "scale": {"domain": [0, 3], "nice": false, "zero": false}, "axis": null},
            "text": {"field": "label"},
            "color": {"field": "step", "type": "nominal", "scale": {"domain": ["start", "[1]", "[2]", "[3]"], "range": ["#c1272d", "#c1272d", "#c1272d", "#e5407f"]}, "legend": null}
          }
        },
        {
          "data": {"name": "panelB"},
          "mark": {"type": "text", "font": "Lato", "fontSize": 30, "color": "black", "align": "center", "baseline": "alphabetic"},
          "encoding": {
            "x": {"field": "x", "type": "quantitative", "scale": {"domain": [-0.038, 4], "nice": false, "zero": false}, "axis": null},
            "y": {"field": "y", "type": "quantitative", "scale": {"domain": [0, 3], "nice": false, "zero": false}, "axis": null},
            "text": {"field": "label"}
          }
        },
        {
          "data": {"name": "titleB"},
          "mark": {"type": "text", "font": "Lato", "fontSize": 30, "color": "black", "align": "center", "baseline": "alphabetic"},
          "encoding": {
            "x": {"field": "x", "type": "quantitative", "scale": {"domain": [-0.038, 4], "nice": false, "zero": false}, "axis": null},
            "y": {"field": "y", "type": "quantitative", "scale": {"domain": [0, 3], "nice": false, "zero": false}, "axis": null},
            "text": {"field": "label"}
          }
        }
      ]
    }
  ]
}
